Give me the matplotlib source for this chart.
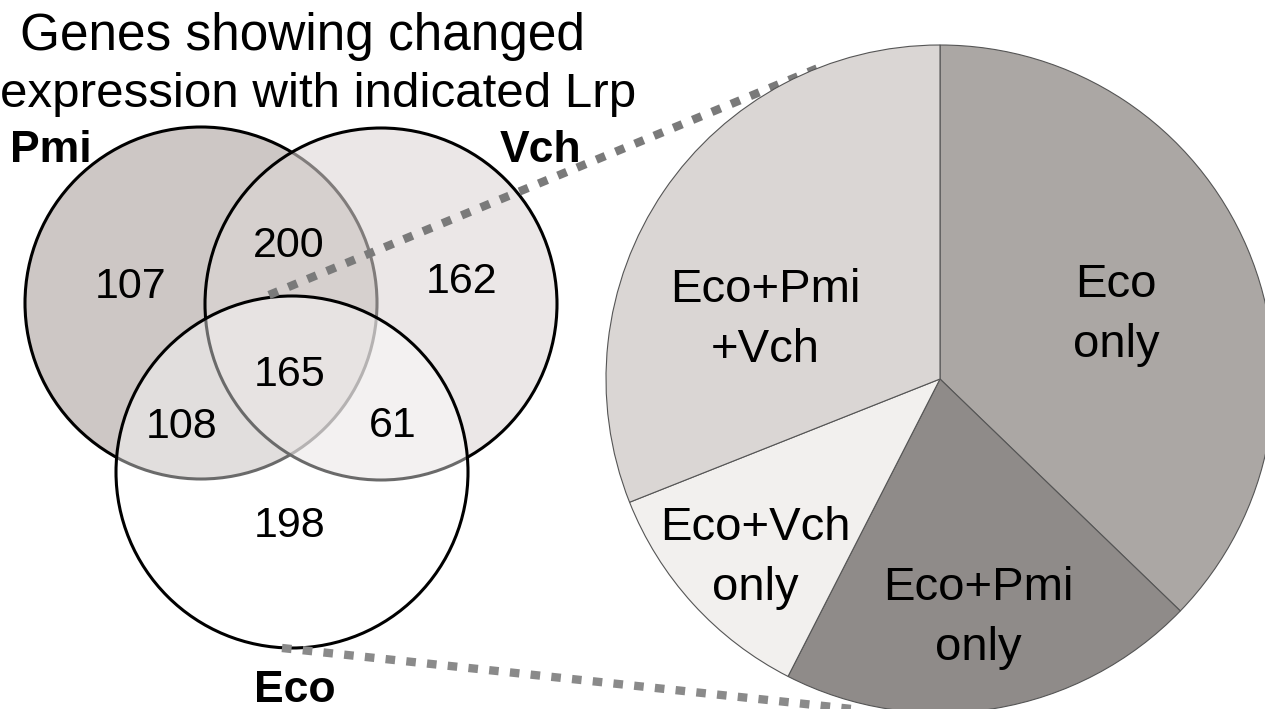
import matplotlib
matplotlib.use("Agg")
import matplotlib.pyplot as plt
from matplotlib.patches import Circle

plt.rcParams['font.family'] = ['Liberation Sans', 'DejaVu Sans']

# ---- data ----
title_lines = ["Genes showing changed", "expression with indicated Lrp"]
set_names = ["Pmi", "Vch", "Eco"]
venn_regions = ["Pmi only", "Pmi+Vch", "Vch only", "all", "Pmi+Eco", "Vch+Eco", "Eco only"]
venn_counts = [107, 200, 162, 165, 108, 61, 198]
pie_labels = ["Eco\nonly", "Eco+Pmi\nonly", "Eco+Vch\nonly", "Eco+Pmi\n+Vch"]
pie_values = [198, 108, 61, 165]
pie_colors = ["#aba7a4", "#8f8b89", "#f2f0ee", "#dad6d4"]

W, H = 1265, 709
fig = plt.figure(figsize=(W / 100, H / 100), dpi=100)
ax = fig.add_axes([0, 0, 1, 1])

def Y(y):
    return H - y

# ---- venn circles ----
circ_centers = {"Pmi": (201, 303), "Vch": (381, 304), "Eco": (292, 472)}
circ_r = 176
circ_face = {"Pmi": ("#cdc7c5", 1.0), "Vch": ("#ded7d6", 0.58), "Eco": ("#ffffff", 0.42)}
for i, name in enumerate(set_names):
    cx, cy = circ_centers[name]
    fc, a = circ_face[name]
    ax.add_patch(Circle((cx, Y(cy)), circ_r, facecolor=fc, alpha=a, edgecolor='none', zorder=1 + 2 * i))
    ax.add_patch(Circle((cx, Y(cy)), circ_r, facecolor='none', edgecolor='black', lw=2.2, zorder=1.5 + 2 * i))

count_pos = [(131, 298), (289, 257), (462, 293), (290, 386), (182, 438), (393, 437), (290, 537)]
for (x, y), c in zip(count_pos, venn_counts):
    ax.text(x, Y(y), str(c), fontsize=31, ha='center', va='baseline', zorder=10)

name_pos = {"Pmi": (51, 162), "Vch": (541, 162), "Eco": (295, 702)}
for name in set_names:
    x, y = name_pos[name]
    ax.text(x, Y(y), name, fontsize=32, fontweight='bold', ha='center', va='baseline', zorder=10)

# title
ax.text(303, Y(50), title_lines[0], fontsize=37, ha='center', va='baseline', zorder=10)
ax.text(318, Y(107), title_lines[1], fontsize=35.5, ha='center', va='baseline', zorder=10)

# ---- dotted connector lines ----
ax.plot([269, 823], [Y(295), Y(66)], color='#7a7a7a', lw=6,
        linestyle=(0, (1.15, 1.35)), solid_capstyle='butt', dash_capstyle='butt', zorder=8)
ax.plot([282, 880], [Y(648), Y(712)], color='#8a8a8a', lw=6,
        linestyle=(0, (1.15, 1.35)), solid_capstyle='butt', dash_capstyle='butt', zorder=8)

# ---- pie ----
pc = (940, Y(379))
wedges, _ = ax.pie(pie_values, colors=pie_colors, startangle=90, counterclock=False,
                   center=pc, radius=334,
                   wedgeprops=dict(edgecolor='#555555', linewidth=0.8))
for w in wedges:
    w.set_zorder(9)

pie_label_pos = [(1116, 297), (978, 600), (755, 540), (765, 302)]
gap = 60
for (x, y), lab in zip(pie_label_pos, pie_labels):
    for j, line in enumerate(lab.split("\n")):
        ax.text(x, Y(y + j * gap), line, fontsize=34, ha='center', va='baseline', zorder=12)

ax.set_xlim(0, W)
ax.set_ylim(0, H)
ax.set_aspect('equal')
ax.axis('off')
fig.savefig("out.png", dpi=100)
